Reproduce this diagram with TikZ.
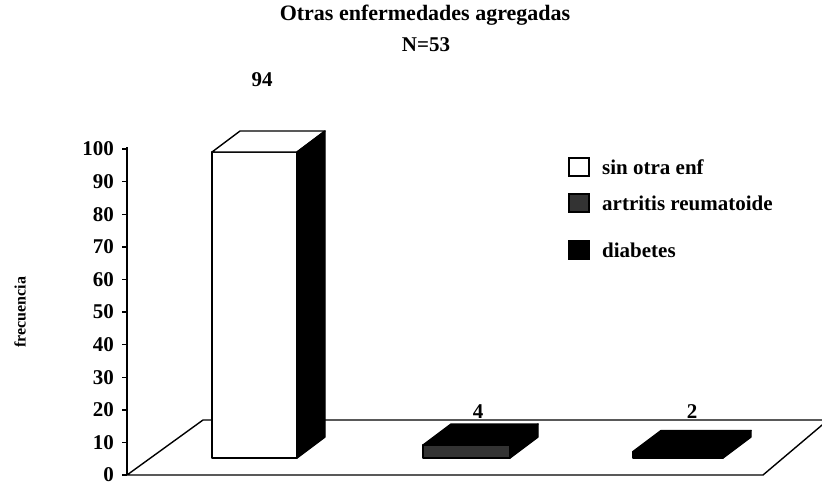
\documentclass[tikz,border=0pt]{standalone}
\usepackage{fontspec}
\setmainfont{Liberation Serif}
\usetikzlibrary{calc}
\tikzset{>=stealth}
\tikzset{
  bar/.style={line width=1.4pt,line join=round},
  lbl/.style={font=\fontsize{21}{24}\selectfont\bfseries,inner sep=0pt},
  keybox/.style={line width=1.2pt}
}

\begin{document}
\begin{tikzpicture}[x=1pt,y=-1pt]
\useasboundingbox (0,0) rectangle (822,485);
\clip (0,0) rectangle (822,485);

% Title
\node[font=\fontsize{22}{26}\selectfont\bfseries] (title) at (425,15)
  {Otras enfermedades agregadas};
\node[font=\fontsize{21}{26}\selectfont\bfseries] (n) at (426,45) {N=53};

% Axis title
\node[font=\fontsize{16}{18}\selectfont\bfseries,rotate=90] (ylab) at (20,312)
  {frecuencia};

% Floor
\coordinate (F0) at (122,475);
\coordinate (F1) at (763,475);
\coordinate (F2) at (828,420);
\coordinate (F3) at (203,420);
\coordinate (O) at (127,475);
\draw[bar] (F0) -- (F1) -- (F2) -- (F3) -- (O);

% Value axis
\coordinate (Y0) at (127,475);
\coordinate (Y1) at (127,147);
\draw[line width=1.6pt] (Y0) -- (Y1);
\foreach \v in {0,10,...,100}{
  \coordinate (tk\v) at (127,{475-3.26*\v});
  \draw[line width=1.4pt] (tk\v) -- ++(-5,0);
  \node[lbl,anchor=east] (yl\v) at ($(tk\v)+(-13,0)$) {\v};
}

% Bar 1: sin otra enf
\coordinate (A) at (212,458);
\coordinate (B) at (297,458);
\coordinate (C) at (297,152);
\coordinate (D) at (212,152);
\coordinate (B1) at (325,437);
\coordinate (C1) at (325,131);
\coordinate (D1) at (240,131);
\draw[bar,fill=white] (A) -- (B) -- (C) -- (D) -- cycle;
\draw[bar,fill=white] (D) -- (C) -- (C1) -- (D1) -- cycle;
\draw[bar,fill=black] (B) -- (B1) -- (C1) -- (C) -- cycle;
\node[lbl] (v1) at (262,80) {94};

% Bar 2: artritis reumatoide
\coordinate (P) at (423,458);
\coordinate (Q) at (510,458);
\coordinate (R) at (510,445);
\coordinate (S) at (423,445);
\coordinate (Q1) at (538,437);
\coordinate (R1) at (538,424);
\coordinate (S1) at (451,424);
\draw[bar,fill=black!80] (P) -- (Q) -- (R) -- (S) -- cycle;
\draw[bar,fill=black] (S) -- (R) -- (R1) -- (S1) -- cycle;
\draw[bar,fill=black] (Q) -- (Q1) -- (R1) -- (R) -- cycle;
\node[lbl] (v2) at (478,412) {4};

% Bar 3: diabetes
\coordinate (G) at (633,458);
\coordinate (H) at (723,458);
\coordinate (I) at (723,451.5);
\coordinate (J) at (633,451.5);
\coordinate (H1) at (751,437);
\coordinate (I1) at (751,430.5);
\coordinate (J1) at (661,430.5);
\draw[bar,fill=black] (G) -- (H) -- (I) -- (J) -- cycle;
\draw[bar,fill=black] (J) -- (I) -- (I1) -- (J1) -- cycle;
\draw[bar,fill=black] (H) -- (H1) -- (I1) -- (I) -- cycle;
\node[lbl] (v3) at (692,412) {2};

% Legend
\draw[keybox,fill=white] (569,158) rectangle (589,176);
\node[lbl,anchor=west] (k1) at (602,167) {sin otra enf};
\draw[keybox,fill=black!80] (569,194) rectangle (589,212);
\node[lbl,anchor=west] (k2) at (602,203) {artritis reumatoide};
\draw[keybox,fill=black] (569,241) rectangle (589,259);
\node[lbl,anchor=west] (k3) at (602,250) {diabetes};
\end{tikzpicture}
\end{document}
